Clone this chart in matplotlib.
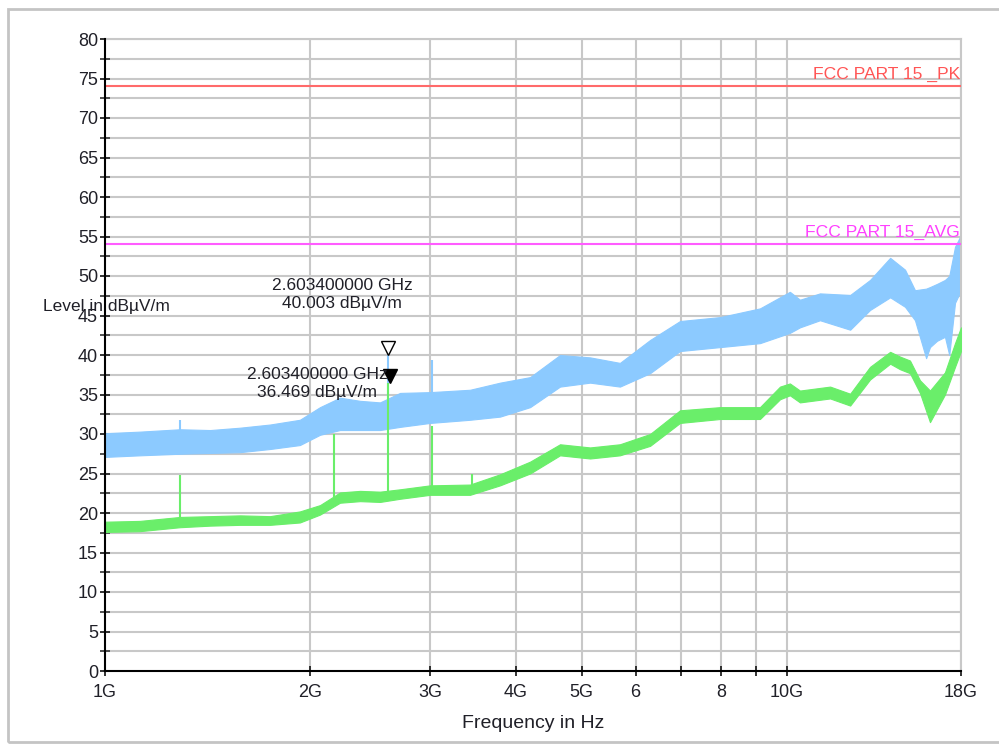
import matplotlib
matplotlib.use("Agg")
import matplotlib.pyplot as plt
import matplotlib.transforms as mtransforms
from matplotlib.patches import Rectangle
from matplotlib.ticker import FixedLocator, FixedFormatter, NullLocator

plt.rcParams['font.family'] = ['Liberation Sans', 'DejaVu Sans']

# ---- data (frequency in GHz, level in dBuV/m) ----
pk_freq = [1.0, 1.125, 1.288, 1.426, 1.578, 1.746, 1.931, 2.067, 2.211, 2.366,
           2.531, 2.708, 2.997, 3.43, 3.796, 4.201, 4.648, 5.144, 5.69, 6.30,
           6.97, 7.98, 9.13, 10.1, 10.45, 11.18, 12.38, 13.24, 14.17, 14.9,
           15.41, 16.0, 16.21, 16.6, 17.05, 17.3, 17.64, 18.0]
pk_lo = [27.1, 27.3, 27.5, 27.6, 27.7, 28.1, 28.6, 29.9, 30.5, 30.5,
         30.5, 30.9, 31.4, 31.8, 32.2, 33.4, 36.0, 36.5, 36.0, 37.7,
         40.5, 41.0, 41.5, 42.8, 43.5, 44.4, 43.2, 45.7, 47.3, 46.1,
         44.4, 39.6, 41.0, 41.8, 42.3, 40.0, 46.6, 48.2]
pk_hi = [30.1, 30.3, 30.6, 30.5, 30.8, 31.2, 31.8, 33.4, 34.6, 34.2,
         34.0, 35.2, 35.3, 35.6, 36.5, 37.2, 40.0, 39.7, 39.0, 41.9,
         44.3, 44.8, 45.9, 48.0, 47.0, 47.8, 47.6, 49.5, 52.3, 50.8,
         48.2, 48.4, 48.6, 49.0, 49.5, 50.0, 53.7, 55.2]

avg_freq = [1.0, 1.125, 1.288, 1.426, 1.578, 1.746, 1.931, 2.067, 2.211, 2.366,
            2.531, 2.708, 2.997, 3.43, 3.796, 4.201, 4.648, 5.144, 5.69, 6.30,
            6.97, 7.98, 9.13, 9.77, 10.1, 10.45, 11.57, 12.38, 13.24, 14.17,
            14.65, 15.15, 15.67, 16.21, 17.05, 17.64, 18.0]
avg_lo = [17.6, 17.7, 18.2, 18.4, 18.5, 18.5, 18.8, 19.8, 21.3, 21.5,
          21.4, 21.8, 22.3, 22.3, 23.5, 25.0, 27.3, 26.9, 27.3, 28.5,
          31.4, 31.9, 31.9, 34.4, 34.9, 34.0, 34.5, 33.6, 36.9, 38.9,
          38.2, 37.7, 35.2, 31.5, 35.0, 38.5, 40.5]
avg_hi = [18.9, 19.0, 19.5, 19.6, 19.7, 19.6, 20.2, 21.0, 22.6, 22.8,
          22.7, 23.0, 23.5, 23.6, 24.9, 26.5, 28.7, 28.3, 28.7, 30.0,
          33.0, 33.4, 33.4, 36.0, 36.4, 35.5, 36.0, 35.1, 38.5, 40.4,
          39.8, 39.3, 36.8, 35.5, 37.8, 41.5, 43.5]

pk_spike_freq = [1.29, 2.6034, 3.02]
pk_spike_base = [29.0, 33.0, 33.5]
pk_spike_top = [31.8, 40.003, 39.4]

avg_spike_freq = [1.29, 2.17, 2.6034, 3.02, 3.45]
avg_spike_base = [19.0, 22.0, 22.2, 23.0, 23.0]
avg_spike_top = [24.8, 30.0, 36.469, 31.0, 25.0]

limit_pk = 74.0
limit_avg = 54.0
limit_pk_label = "FCC PART 15 _PK"
limit_avg_label = "FCC PART 15_AVG"

marker_freq = 2.6034
marker_pk = 40.003
marker_avg = 36.469
marker_pk_text = "2.603400000 GHz\n40.003 dBµV/m"
marker_avg_text = "2.603400000 GHz\n36.469 dBµV/m"

xtick_vals = [1, 2, 3, 4, 5, 6, 7, 8, 9, 10, 18]
xtick_labels = ["1G", "2G", "3G", "4G", "5G", "6", "", "8", "", "10G", "18G"]
ytick_vals = list(range(0, 81, 5))
yminor_vals = [v + 2.5 for v in range(0, 80, 5)]

# ---- figure ----
W, H = 999, 744
fig = plt.figure(figsize=(W / 100, H / 100), dpi=100)
ax = fig.add_axes([105 / W, 1 - 671 / H, (961 - 105) / W, (671 - 39) / H])

blue = '#8ccaff'
green = '#6aee6a'
grid_c = '#c8c8c8'
txt_c = '#202028'

ax.set_xscale('log')
ax.set_xlim(1, 18)
ax.set_ylim(0, 80)

# grid
for v in xtick_vals[1:]:
    ax.axvline(v, color=grid_c, lw=1.5, zorder=0)
for v in [y * 2.5 for y in range(1, 33)]:
    ax.axhline(v, color=grid_c, lw=1.5, zorder=0)

# traces
ax.fill_between(pk_freq, pk_lo, pk_hi, color=blue, lw=0.8, edgecolor=blue, zorder=2)
ax.fill_between(avg_freq, avg_lo, avg_hi, color=green, lw=0.8, edgecolor=green, zorder=3)
ax.vlines(pk_spike_freq, pk_spike_base, pk_spike_top, color=blue, lw=1.5, zorder=2)
ax.vlines(avg_spike_freq, avg_spike_base, avg_spike_top, color=green, lw=1.5, zorder=3)

# limit lines
ax.axhline(limit_pk, color='#ff6a6a', lw=1.5, zorder=4)
ax.axhline(limit_avg, color='#ff5cff', lw=1.5, zorder=4)
ax.text(17.95, limit_pk + 0.6, limit_pk_label, color='#ff5555', fontsize=12.6,
        ha='right', va='bottom', zorder=5)
ax.text(17.95, limit_avg + 0.6, limit_avg_label, color='#ff40ff', fontsize=12.6,
        ha='right', va='bottom', zorder=5)

# markers
off = mtransforms.offset_copy(ax.transData, fig=fig, x=0, y=5.3, units='points')
ax.plot([marker_freq], [marker_pk], marker='v', ms=10.5, mfc='white', mec='black',
        mew=1.0, transform=off, zorder=6, ls='none')
off2 = mtransforms.offset_copy(ax.transData, fig=fig, x=1.2, y=5.3, units='points')
ax.plot([marker_freq], [marker_avg], marker='v', ms=10.5, mfc='black', mec='black',
        transform=off2, zorder=6, ls='none')
ax.text(2.227, 47.66, marker_pk_text, ha='center', va='center', fontsize=12.5,
        color=txt_c, linespacing=1.25, zorder=6)
ax.text(2.046, 36.4, marker_avg_text, ha='center', va='center', fontsize=12.5,
        color=txt_c, linespacing=1.25, zorder=6)

# axes styling
for s in ['top', 'right']:
    ax.spines[s].set_color(grid_c)
    ax.spines[s].set_linewidth(1.5)
for s in ['left', 'bottom']:
    ax.spines[s].set_color('black')
    ax.spines[s].set_linewidth(1.5)
    ax.spines[s].set_zorder(7)

ax.xaxis.set_major_locator(FixedLocator(xtick_vals))
ax.xaxis.set_major_formatter(FixedFormatter(xtick_labels))
ax.xaxis.set_minor_locator(NullLocator())
ax.set_yticks(ytick_vals)
ax.set_yticks(yminor_vals, minor=True)
ax.tick_params(axis='both', which='both', direction='inout', length=7, width=1.3,
               colors='#222222', labelcolor=txt_c, labelsize=13)
ax.tick_params(axis='y', which='minor', length=7, width=1.3, color='#444444')
ax.tick_params(axis='y', pad=1.5)
ax.tick_params(axis='x', pad=6)

fig.text(43 / W, 1 - 306 / H, "Level in dBµV/m", ha='left', va='center',
         fontsize=12.5, color=txt_c)
fig.text(533 / W, 1 - 724 / H, "Frequency in Hz", ha='center', va='center',
         fontsize=14, color=txt_c)

fig.add_artist(Rectangle((7.5 / W, 2 / H), 1.2, (742 - 9) / H, transform=fig.transFigure,
                         fill=False, edgecolor='#c4c4c4', lw=2))

fig.savefig('out.png', dpi=100)
